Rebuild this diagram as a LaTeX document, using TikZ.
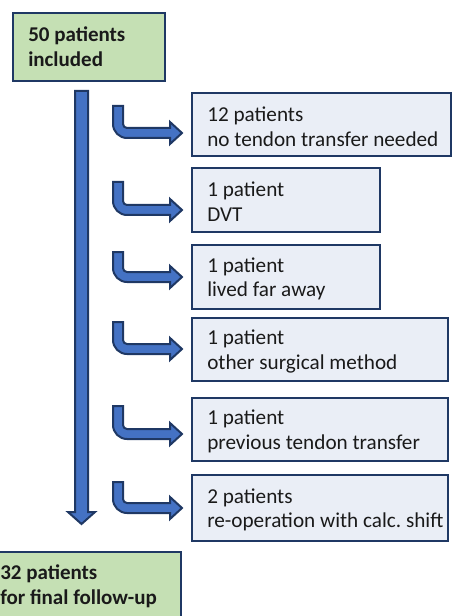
\documentclass[tikz,border=0pt]{standalone}
\usepackage{fontspec}
\setmainfont{Carlito}
\frenchspacing
\definecolor{navy}{HTML}{1F3864}
\definecolor{lgreen}{HTML}{C5E0B4}
\definecolor{lblue}{HTML}{EAEEF6}
\definecolor{arrowblue}{HTML}{4472C4}
\definecolor{txt}{HTML}{1A1A1A}
\newcommand{\bentarrow}[2]{%
  \draw[blockarrow] (113,#1) [rounded corners=10.5pt] -- (113,{#2+5})
    [sharp corners] -- (170,{#2+5}) -- (170,{#2+11}) -- (182,#2) -- (170,{#2-11}) -- (170,{#2-5})
    [rounded corners=3pt] -- (123,{#2-5}) [sharp corners] -- (123,#1) -- cycle;}
\begin{document}
\begin{tikzpicture}[x=0.75pt,y=-0.75pt,
  gbox/.style={draw=navy, fill=lgreen, line width=1.5pt, anchor=north west, inner sep=0pt},
  rbox/.style={draw=navy, fill=lblue, line width=1.5pt, anchor=north west, inner sep=0pt},
  gtext/.style={anchor=west, align=left, inner sep=0pt, text=txt, xshift=12pt,
    font=\fontsize{15.75}{18.5}\selectfont\bfseries},
  rtext/.style={anchor=west, align=left, inner sep=0pt, text=txt, xshift=12pt, yshift=-1.5pt,
    font=\fontsize{15.9}{18.5}\selectfont},
  blockarrow/.style={draw=navy, fill=arrowblue, line width=1.5pt, line join=miter}]
\useasboundingbox (0,0) rectangle (452,616);
% main vertical arrow
\draw[blockarrow] (75,91) -- (75,512) -- (68,512) -- (81.5,524) -- (95,512) -- (88,512) -- (88,91) -- cycle;
% green boxes
\node[gbox, minimum width=114pt, minimum height=51pt] (g1) at (12,12) {};
\node[gtext] (g1t) at (g1.west) {50 patients\\included};
\node[gbox, minimum width=147pt, minimum height=51pt] (g2) at (-16,551) {};
\node[gtext] (g2t) at (g2.west) {32 patients\\for final follow-up};
% right boxes
\node[rbox, minimum width=194.25pt, minimum height=47.25pt] (b1) at (191,92) {};
\node[rtext] (b1t) at (b1.west) {12 patients\\no tendon transfer needed};
\node[rbox, minimum width=141pt, minimum height=48pt] (b2) at (191,167) {};
\node[rtext] (b2t) at (b2.west) {1 patient\\DVT};
\node[rbox, minimum width=141pt, minimum height=48pt] (b3) at (191,244) {};
\node[rtext] (b3t) at (b3.west) {1 patient\\lived far away};
\node[rbox, minimum width=192pt, minimum height=47.25pt] (b4) at (191,317) {};
\node[rtext] (b4t) at (b4.west) {1 patient\\other surgical method};
\node[rbox, minimum width=192pt, minimum height=47.25pt] (b5) at (191,397) {};
\node[rtext] (b5t) at (b5.west) {1 patient\\previous tendon transfer};
\node[rbox, minimum width=192pt, minimum height=49.5pt] (b6) at (191,474) {};
\node[rtext] (b6t) at (b6.west) {2 patients\\re-operation with calc. shift};
% bent arrows
\bentarrow{106}{133}
\bentarrow{182}{210}
\bentarrow{252}{277}
\bentarrow{322}{349}
\bentarrow{406}{434}
\bentarrow{482}{508}
\end{tikzpicture}
\end{document}
